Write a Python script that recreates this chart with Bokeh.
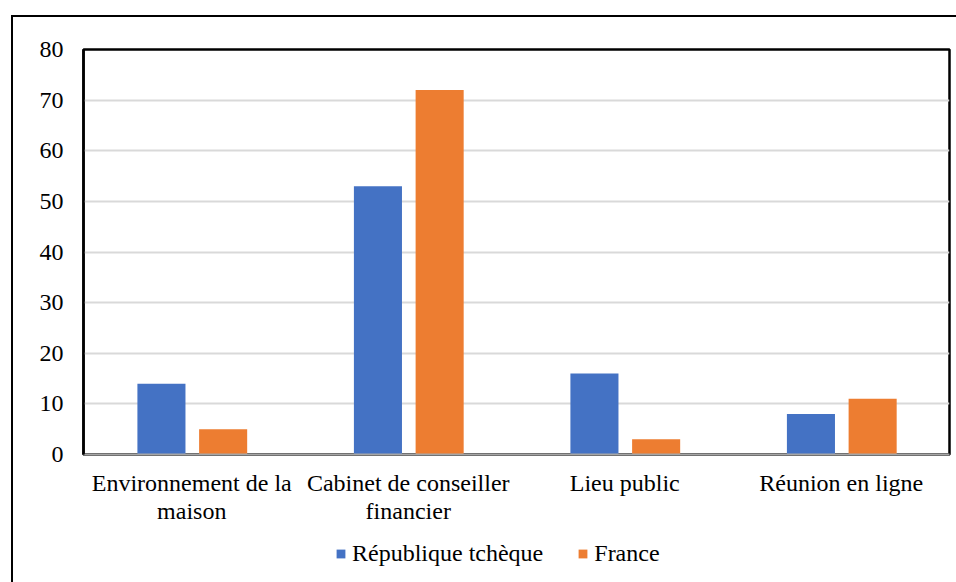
from bokeh.plotting import figure
from bokeh.models import FactorRange, Range1d, Legend, LegendItem, FixedTicker, InlineStyleSheet
from bokeh.layouts import column
from bokeh.transform import dodge
from bokeh.embed import file_html
from bokeh.resources import INLINE

categories = ["Environnement de la\nmaison", "Cabinet de conseiller\nfinancier", "Lieu public", "Réunion en ligne"]
series_names = ["République tchèque", "France"]
czech = [14, 53, 16, 8]
france = [5, 72, 3, 11]
y_ticks = [0, 10, 20, 30, 40, 50, 60, 70, 80]

FONT = "Liberation Serif"
BLUE = "#4472C4"
ORANGE = "#ED7D31"

p = figure(width=956, height=530, x_range=FactorRange(*categories, range_padding=0),
           y_range=Range1d(0, 80), output_backend="svg", toolbar_location=None,
           min_border_left=83, min_border_right=7, min_border_top=49, min_border_bottom=76)

src = {"cat": categories, "cz": czech, "fr": france}
r1 = p.vbar(x=dodge("cat", -0.14, range=p.x_range), top="cz", width=0.222,
            source=src, fill_color=BLUE, line_color=None)
r2 = p.vbar(x=dodge("cat", 0.145, range=p.x_range), top="fr", width=0.222,
            source=src, fill_color=ORANGE, line_color=None)

p.outline_line_color = "black"
p.outline_line_width = 2.5
p.xgrid.grid_line_color = None
p.ygrid.grid_line_color = "#d9d9d9"
p.ygrid.grid_line_width = 2
p.yaxis.ticker = FixedTicker(ticks=y_ticks)

for ax in (p.xaxis, p.yaxis):
    ax.major_tick_line_color = None
    ax.minor_tick_line_color = None
    ax.major_label_text_font = FONT
    ax.major_label_text_font_size = "24px"
    ax.major_label_text_color = "black"
p.yaxis.axis_line_color = "black"
p.yaxis.axis_line_width = 2.5
p.yaxis.major_label_standoff = 14
p.xaxis.axis_line_color = "#a6a6a6"
p.xaxis.axis_line_width = 2
p.xaxis.major_label_standoff = 9
p.xaxis.major_label_text_line_height = 1.1

# legend strip below the chart (zero-height bars only serve as legend glyph sources)
pl = figure(width=956, height=52, x_range=FactorRange(*categories, range_padding=0),
            y_range=Range1d(0, 80), output_backend="svg", toolbar_location=None,
            min_border_left=0, min_border_right=0, min_border_top=0, min_border_bottom=0)
pl.axis.visible = False
pl.grid.visible = False
pl.outline_line_color = None
lr1 = pl.vbar(x="cat", top="cz", bottom="cz", width=0.222, source=src,
              fill_color=BLUE, line_color=None)
lr2 = pl.vbar(x="cat", top="fr", bottom="fr", width=0.222, source=src,
              fill_color=ORANGE, line_color=None)
legend = Legend(items=[LegendItem(label=series_names[0], renderers=[lr1]),
                       LegendItem(label=series_names[1], renderers=[lr2])],
                orientation="horizontal", location=(252, 15),
                glyph_width=11, glyph_height=11, label_standoff=6, spacing=34,
                padding=0, margin=0, border_line_color=None, background_fill_alpha=0,
                label_text_font=FONT, label_text_font_size="24px", label_text_color="black",
                label_height=20)
pl.add_layout(legend, "center")

layout = column(p, pl, spacing=0)
layout.stylesheets = [InlineStyleSheet(css=""":host::after {
  content: ""; position: absolute; left: 11px; top: 15px; right: 0; bottom: 0;
  border-left: 2.5px solid black; border-top: 2.5px solid black; pointer-events: none;
}""")]

open("out.html", "w").write(file_html(layout, INLINE))
